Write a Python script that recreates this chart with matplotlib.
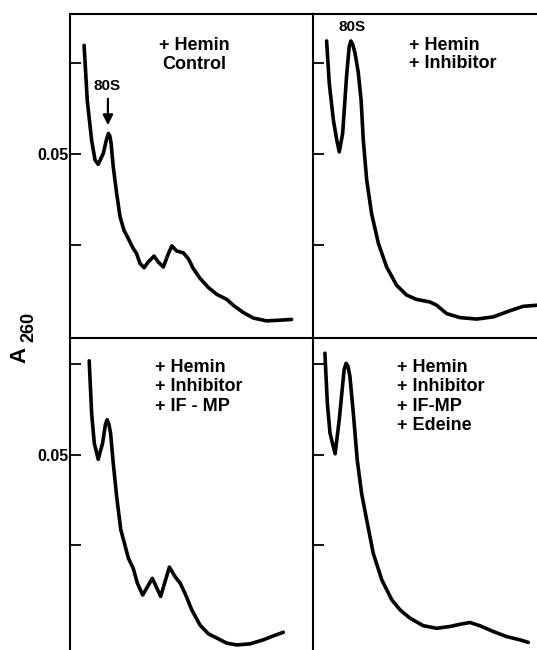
import numpy as np
import matplotlib.pyplot as plt

plt.rcParams['font.family'] = ['Liberation Sans', 'DejaVu Sans']
plt.rcParams['font.weight'] = 'bold'

# relative gradient position (0 = left edge of panel) and A260 readings
x_ctrl = [0.058, 0.071, 0.089, 0.103, 0.116, 0.137, 0.150, 0.158, 0.164, 0.169, 0.178, 0.192,
          0.206, 0.222, 0.240, 0.260, 0.274, 0.288, 0.305, 0.322, 0.346, 0.363,
          0.384, 0.405, 0.419, 0.439, 0.466, 0.487, 0.507, 0.535, 0.569, 0.604,
          0.645, 0.672, 0.713, 0.754, 0.809, 0.864, 0.912]
a_ctrl = [0.0799, 0.0648, 0.0538, 0.0484, 0.0472, 0.0502, 0.0540, 0.0557, 0.0550, 0.0530, 0.0465, 0.0392,
          0.0328, 0.0291, 0.0268, 0.0241, 0.0227, 0.0200, 0.0188, 0.0204, 0.0220, 0.0204,
          0.0190, 0.0227, 0.0248, 0.0234, 0.0229, 0.0213, 0.0186, 0.0159, 0.0134, 0.0115,
          0.0101, 0.0085, 0.0065, 0.0050, 0.0042, 0.0044, 0.0046]

x_inh = [0.056, 0.067, 0.084, 0.098, 0.108, 0.122, 0.139, 0.149, 0.156, 0.164, 0.173, 0.186,
         0.198, 0.207, 0.221, 0.241, 0.269, 0.303, 0.344, 0.385, 0.426, 0.481,
         0.509, 0.550, 0.605, 0.674, 0.742, 0.811, 0.865, 0.922]
a_inh = [0.0811, 0.0694, 0.0593, 0.0538, 0.0506, 0.0557, 0.0722, 0.0795, 0.0811, 0.0800, 0.0777, 0.0726,
         0.0648, 0.0538, 0.0429, 0.0337, 0.0255, 0.0190, 0.0140, 0.0113, 0.0101, 0.0094,
         0.0085, 0.0062, 0.0051, 0.0047, 0.0053, 0.0070, 0.0082, 0.0085]

x_ifmp = [0.079, 0.089, 0.100, 0.116, 0.134, 0.146, 0.153, 0.160, 0.167, 0.178, 0.192, 0.209,
          0.222, 0.240, 0.260, 0.277, 0.299, 0.339, 0.373, 0.409, 0.432, 0.453,
          0.473, 0.501, 0.535, 0.569, 0.604, 0.645, 0.686, 0.741, 0.795, 0.837, 0.878]
a_ifmp = [0.0760, 0.0615, 0.0532, 0.0488, 0.0532, 0.0585, 0.0597, 0.0585, 0.0560, 0.0477, 0.0385, 0.0293,
          0.0261, 0.0215, 0.0187, 0.0146, 0.0113, 0.0159, 0.0109, 0.0190, 0.0164, 0.0146,
          0.0118, 0.0072, 0.0030, 0.0006, -0.0006, -0.0020, -0.0025, -0.0022, -0.0011, 0.0000, 0.0010]

x_ede = [0.049, 0.059, 0.070, 0.091, 0.108, 0.128, 0.136, 0.144, 0.152, 0.166, 0.182, 0.200,
         0.221, 0.248, 0.283, 0.324, 0.358, 0.399, 0.454, 0.509, 0.564, 0.612,
         0.646, 0.687, 0.742, 0.797, 0.852, 0.886]
a_ede = [0.0781, 0.0643, 0.0560, 0.0503, 0.0597, 0.0735, 0.0753, 0.0745, 0.0716, 0.0615, 0.0486, 0.0394,
         0.0320, 0.0228, 0.0155, 0.0100, 0.0072, 0.0049, 0.0028, 0.0021, 0.0026, 0.0033,
         0.0037, 0.0028, 0.0012, -0.0002, -0.0011, -0.0018]

yticks = [0.025, 0.05, 0.075]
ytick_labels = ['', '0.05', '']

fig = plt.figure(figsize=(5.37, 6.5), dpi=100)

W = 243 / 537.
panels = [
    # left, bottom, height, x, y, ylim, labels?
    (70 / 537., 312 / 650., 324 / 650., x_ctrl, a_ctrl, (-0.0005, 0.0885), True),
    (313 / 537., 312 / 650., 324 / 650., x_inh, a_inh, (-0.0005, 0.0885), False),
    (70 / 537., 0.0, 312 / 650., x_ifmp, a_ifmp, (-0.0039, 0.0823), True),
    (313 / 537., 0.0, 312 / 650., x_ede, a_ede, (-0.0039, 0.0823), False),
]
axes = []
for left, bottom, h, xs, ys, ylim, lab in panels:
    ax = fig.add_axes([left, bottom, W, h])
    ax.plot(xs, ys, color='black', lw=2.6, solid_capstyle='round', solid_joinstyle='round')
    ax.set_xlim(0, 1)
    ax.set_ylim(*ylim)
    ax.set_xticks([])
    ax.set_yticks(yticks)
    if lab:
        ax.set_yticklabels(ytick_labels, fontsize=11.5, fontweight='bold')
    else:
        ax.set_yticklabels([])
    ax.tick_params(axis='y', direction='in', length=8, width=1.3, pad=1)
    for s in ['right', 'bottom']:
        ax.spines[s].set_visible(False)
    for s in ['left', 'top']:
        ax.spines[s].set_linewidth(1.5)
    ax.patch.set_alpha(0)
    axes.append(ax)

ax1, ax2, ax3, ax4 = axes

ax1.text(0.511, 0.0822, '+ Hemin\nControl', ha='center', va='top', fontsize=13,
         fontweight='bold', linespacing=1.15)
ax1.text(0.152, 0.0687, '80S', ha='center', va='center', fontsize=11, fontweight='bold')
ax1.annotate('', xy=(0.156, 0.0572), xytext=(0.156, 0.0660),
             arrowprops=dict(arrowstyle='-|>', color='black', lw=1.6, mutation_scale=15))

ax2.text(0.397, 0.0822, '+ Hemin\n+ Inhibitor', ha='left', va='top', fontsize=13,
         fontweight='bold', linespacing=1.05)
ax2.text(0.159, 0.0849, '80S', ha='center', va='center', fontsize=11, fontweight='bold')

ax3.text(0.348, 0.0766, '+ Hemin\n+ Inhibitor\n+ IF - MP', ha='left', va='top', fontsize=13,
         fontweight='bold', linespacing=1.2)
ax4.text(0.344, 0.0766, '+ Hemin\n+ Inhibitor\n+ IF-MP\n+ Edeine', ha='left', va='top',
         fontsize=13, fontweight='bold', linespacing=1.2)

fig.text(20 / 537., 1 - 355 / 650., 'A', rotation=90, ha='center', va='center', fontsize=16)
fig.text(28.5 / 537., 1 - 327 / 650., '260', rotation=90, ha='center', va='center',
         fontsize=13, fontweight='bold')

fig.savefig('out.png', dpi=100)
